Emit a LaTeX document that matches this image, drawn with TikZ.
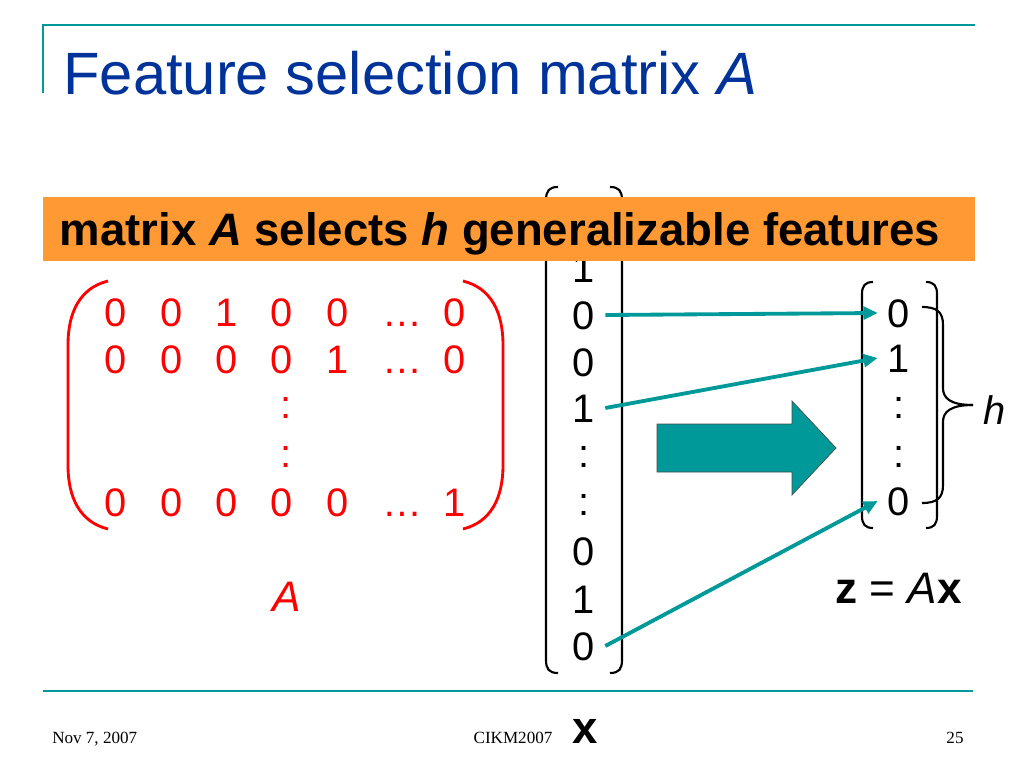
\documentclass[tikz,border=0pt]{standalone}
\usepackage{fontspec}
\setmainfont{Liberation Sans}
\newfontfamily\footfont{Liberation Serif}
\usetikzlibrary{arrows.meta}
\definecolor{Teal}{RGB}{0,153,153}
\definecolor{TitleBlue}{RGB}{0,51,153}
\definecolor{Banner}{RGB}{255,153,51}
\newcommand{\fs}[1]{\fontsize{#1}{#1}\selectfont}
\tikzstyle{Entry}=[inner ysep=1pt, inner xsep=7pt, font=\fs{28}, text height=20pt, text depth=0pt]
\tikzstyle{RedEntry}=[Entry, text=red, inner xsep=1pt]
\tikzstyle{Line}=[-{Triangle[length=10pt,width=9pt]}, line width=2.7pt, Teal]
\tikzstyle{Rule}=[line width=1.5pt, Teal]
\tikzstyle{Bracket}=[line width=1.5pt]
\tikzstyle{Foot}=[font=\footfont\fs{12}, anchor=base, inner sep=0pt]

\begin{document}
\begin{tikzpicture}[x=0.703pt, y=-0.703pt]
    \useasboundingbox (0,0) rectangle (1024,768);

    \draw[Rule] (43,93) -- (43,25) -- (975,25);
    \draw[Rule] (43,691) -- (973,691);
    \node[anchor=base west, inner sep=0pt, font=\fs{42}, text=TitleBlue] (title) at (63,94) {Feature selection matrix \textit{A}};

    % matrix A
    \node[RedEntry] (a11) at (116,312) {0};
    \node[RedEntry] (a12) at (172,312) {0};
    \node[RedEntry] (a13) at (227,312) {1};
    \node[RedEntry] (a14) at (282,312) {0};
    \node[RedEntry] (a15) at (338,312) {0};
    \node[RedEntry] (a16) at (402,312) {\dots};
    \node[RedEntry] (a17) at (455,312) {0};
    \node[RedEntry] (a21) at (116,359) {0};
    \node[RedEntry] (a22) at (172,359) {0};
    \node[RedEntry] (a23) at (227,359) {0};
    \node[RedEntry] (a24) at (282,359) {0};
    \node[RedEntry] (a25) at (338,359) {1};
    \node[RedEntry] (a26) at (402,359) {\dots};
    \node[RedEntry] (a27) at (455,359) {0};
    \node[RedEntry] (ad1) at (286,404) {:};
    \node[RedEntry] (ad2) at (286,453) {:};
    \node[RedEntry] (a31) at (116,502) {0};
    \node[RedEntry] (a32) at (172,502) {0};
    \node[RedEntry] (a33) at (227,502) {0};
    \node[RedEntry] (a34) at (282,502) {0};
    \node[RedEntry] (a35) at (338,502) {0};
    \node[RedEntry] (a36) at (402,502) {\dots};
    \node[RedEntry] (a37) at (455,502) {1};
    \draw[red, line width=2pt] (108,281) .. controls (80,288) and (68,312) .. (68,345) -- (68,465) .. controls (68,498) and (80,522) .. (108,529);
    \draw[red, line width=2pt] (463,281) .. controls (491,288) and (503,312) .. (503,345) -- (503,465) .. controls (503,498) and (491,522) .. (463,529);
    \node[text=red, font=\fs{30}\itshape] (Alabel) at (287,597) {A};

    % vector x
    \node[Entry] (x1) at (584,268) {1};
    \node[Entry] (x2) at (584,315) {0};
    \node[Entry] (x3) at (584,362) {0};
    \node[Entry] (x4) at (584,408) {1};
    \node[Entry] (x5) at (584,453) {:};
    \node[Entry] (x6) at (584,501) {:};
    \node[Entry] (x7) at (584,551) {0};
    \node[Entry] (x8) at (584,599) {1};
    \node[Entry] (x9) at (584,646) {0};
    \draw[Bracket] (558,187) .. controls (549,187) and (546,191) .. (546,200) -- (546,660) .. controls (546,669) and (549,673) .. (558,673);
    \draw[Bracket] (610,187) .. controls (619,187) and (622,191) .. (622,200) -- (622,660) .. controls (622,669) and (619,673) .. (610,673);
    \node[anchor=base, inner sep=0pt, font=\fs{32}\bfseries] (xlabel) at (585,743) {x};

    % banner
    \node[fill=Banner, minimum width=932*0.703pt, minimum height=64*0.703pt, inner sep=0pt] (banner) at (509,229) {};
    \node[inner sep=0pt, font=\fs{32}\bfseries] (bannertext) at (500,234) {matrix \textit{A} selects \textit{h} generalizable features};

    % vector z
    \node[Entry] (z1) at (899,313) {0};
    \node[Entry] (z2) at (899,358) {1};
    \node[Entry] (z3) at (899,404) {:};
    \node[Entry] (z4) at (899,453) {:};
    \node[Entry] (z5) at (899,501) {0};
    \draw[Bracket] (873,282) .. controls (865,282) and (862,286) .. (862,294) -- (862,516) .. controls (862,524) and (865,528) .. (873,528);
    \draw[Bracket] (926,282) .. controls (934,282) and (937,286) .. (937,294) -- (937,516) .. controls (937,524) and (934,528) .. (926,528);
    \draw[Bracket] (922,307) .. controls (937,307) and (943,312) .. (943,325) -- (943,388) .. controls (943,398) and (950,405) .. (973,405);
    \draw[Bracket] (922,503) .. controls (937,503) and (943,498) .. (943,485) -- (943,422) .. controls (943,412) and (950,405) .. (973,405);
    \node[anchor=west, inner sep=0pt, font=\fs{28}\itshape] (h) at (983,410) {h};
    \node[anchor=base west, inner sep=0pt, font=\fs{31}] (eq) at (835,603) {\textbf{z} = \textit{A}\textbf{x}};

    \draw[fill=Teal, draw=black!70, line width=0.5pt] (657,424) -- (792,424) -- (792,401) -- (836,448) -- (792,495) -- (792,472) -- (657,472) -- cycle;

    \draw[Line] (x2.east) -- (z1.west);
    \draw[Line] (x4.east) -- (z2.west);
    \draw[Line] (x9.east) -- (z5.west);

    \node[Foot, anchor=base west] (date) at (52,743) {Nov 7, 2007};
    \node[Foot] (conf) at (513,743) {CIKM2007};
    \node[Foot] (page) at (955,743) {25};

\end{tikzpicture}
\end{document}
